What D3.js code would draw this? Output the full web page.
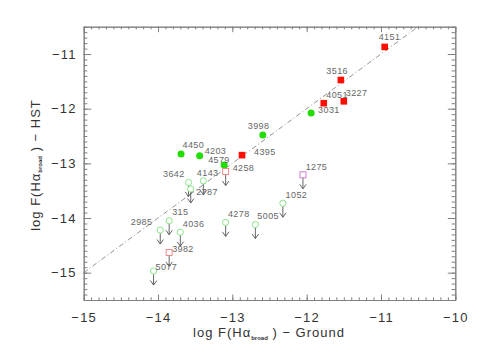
<!DOCTYPE html>
<html>
<head>
<meta charset="utf-8">
<script src="https://cdn.jsdelivr.net/npm/d3@7"></script>
<style>
  body { margin: 0; background: white; }
  text { font-family: "Liberation Sans", Arial, sans-serif; }
</style>
</head>
<body>
<div id="vis"></div>
<script>
// galaxy ids and log fluxes
// detections (filled symbols)
let detRedNames = ['4151', '3516', '4051', '3227', '4395'];
let detRedX = [-10.95, -11.54, -11.77, -11.50, -12.87];
let detRedY = [-10.87, -11.475, -11.90, -11.865, -12.85];

let detGreenNames = ['3031', '3998', '4450', '4203', '4579'];
let detGreenX = [-11.94, -12.59, -13.69, -13.44, -13.11];
let detGreenY = [-12.08, -12.48, -12.83, -12.86, -13.03];

// upper limits (open symbols + arrow)
let limGreenNames = ['3642', '2787', '4143', '315', '2985', '4036', '5077', '4278', '5005', '1052'];
let limGreenX = [-13.59, -13.56, -13.39, -13.85, -13.97, -13.70, -14.06, -13.09, -12.69, -12.32];
let limGreenY = [-13.35, -13.47, -13.32, -14.05, -14.22, -14.26, -14.97, -14.08, -14.12, -13.73];

let limRedNames = ['4258', '3982'];
let limRedX = [-13.09, -13.85];
let limRedY = [-13.15, -14.63];

let limMagNames = ['1275'];
let limMagX = [-12.05];
let limMagY = [-13.21];

let xTicks = [-15, -14, -13, -12, -11, -10];
let yTicks = [-15, -14, -13, -12, -11];

// where each label sits relative to its symbol (text start, baseline)
let labelOffset = {
  '4151': [-6, -6.5], '3516': [-14.5, -6], '4051': [2.5, -5.5], '3227': [2, -5.5],
  '3031': [7, 0], '3998': [-15, -6], '4395': [12, 0], '4450': [1.5, -6],
  '4203': [5, -1.5], '4579': [-16, -1.5], '4258': [7, -0.5], '3642': [-25.5, -5.5],
  '2787': [5.5, 5.7], '4143': [-6.5, -5], '315': [3, -5.5], '2985': [-29.5, -5.5],
  '4036': [2.5, -5], '3982': [3, -0.7], '5077': [2, -0.7], '4278': [2.3, -5.6],
  '5005': [2, -6], '1052': [2.7, -5.7], '1275': [2.7, -5]
};

function zip(names, xs, ys, kind) {
  return names.map((n, i) => ({ name: n, x: xs[i], y: ys[i], kind: kind }));
}

let points = [].concat(
  zip(detRedNames, detRedX, detRedY, 'detRed'),
  zip(detGreenNames, detGreenX, detGreenY, 'detGreen'),
  zip(limGreenNames, limGreenX, limGreenY, 'limGreen'),
  zip(limRedNames, limRedX, limRedY, 'limRed'),
  zip(limMagNames, limMagX, limMagY, 'limMag')
);

let W = 481, H = 354;
let margin = { top: 26.7, left: 83.7, right: 25.7, bottom: 54 },
  width = W - margin.left - margin.right,
  height = H - margin.top - margin.bottom;

let svg = d3.select('#vis')
  .append('svg')
  .attr('width', W)
  .attr('height', H)
  .style('background-color', 'white');

let x = d3.scaleLinear().domain([-15, -10]).range([0, width]);
let y = d3.scaleLinear().domain([-15.5, -10.5]).range([height, 0]);

let g = svg.append('g')
  .attr('transform', `translate(${margin.left},${margin.top})`);

let fmt = d => (d < 0 ? '\u2212' : '') + Math.abs(d);
let xMinor = d3.range(-150, -99).map(d => d / 10);
let yMinor = d3.range(-155, -104).map(d => d / 10);

let axisCol = '#808080';

function styleAxis(sel) {
  sel.selectAll('path').attr('stroke', axisCol);
  sel.selectAll('line').attr('stroke', axisCol);
  sel.selectAll('text')
    .attr('fill', '#333')
    .style('font-size', '13px')
    .style('letter-spacing', '1.2px');
}

// bottom + top, minor then major, ticks pointing in
g.append('g').attr('transform', `translate(0,${height})`)
  .call(d3.axisBottom(x).tickValues(xMinor).tickSize(-2.7).tickFormat('').tickSizeOuter(0))
  .call(styleAxis);
g.append('g').attr('transform', `translate(0,${height})`)
  .call(d3.axisBottom(x).tickValues(xTicks).tickSize(-5.5).tickPadding(13).tickFormat(fmt).tickSizeOuter(0))
  .call(styleAxis);
g.append('g')
  .call(d3.axisTop(x).tickValues(xMinor).tickSize(-2.7).tickFormat('').tickSizeOuter(0))
  .call(styleAxis);
g.append('g')
  .call(d3.axisTop(x).tickValues(xTicks).tickSize(-5.5).tickFormat('').tickSizeOuter(0))
  .call(styleAxis);

// left + right
g.append('g')
  .call(d3.axisLeft(y).tickValues(yMinor).tickSize(-3.7).tickFormat('').tickSizeOuter(0))
  .call(styleAxis);
g.append('g')
  .call(d3.axisLeft(y).tickValues(yTicks).tickSize(-7.5).tickPadding(7).tickFormat(fmt).tickSizeOuter(0))
  .call(styleAxis);
g.append('g').attr('transform', `translate(${width},0)`)
  .call(d3.axisRight(y).tickValues(yMinor).tickSize(-3.7).tickFormat('').tickSizeOuter(0))
  .call(styleAxis);
g.append('g').attr('transform', `translate(${width},0)`)
  .call(d3.axisRight(y).tickValues(yTicks).tickSize(-7.5).tickFormat('').tickSizeOuter(0))
  .call(styleAxis);

// one-to-one line
g.append('line')
  .attr('x1', x(-15)).attr('y1', y(-15))
  .attr('x2', x(-10.5)).attr('y2', y(-10.5))
  .attr('stroke', '#777')
  .attr('stroke-width', 0.8)
  .attr('stroke-dasharray', '5,2.5,1,2.5');

// arrows for the upper limits
let lims = points.filter(d => d.kind.startsWith('lim'));
let arrowCol = '#555';
lims.forEach(d => {
  let cx = x(d.x), cy = y(d.y);
  g.append('line')
    .attr('x1', cx).attr('y1', cy + 2)
    .attr('x2', cx).attr('y2', cy + 14)
    .attr('stroke', arrowCol).attr('stroke-width', 0.9);
  g.append('path')
    .attr('d', `M${cx - 3.2},${cy + 9.5} L${cx},${cy + 14} L${cx + 3.2},${cy + 9.5}`)
    .attr('fill', 'none')
    .attr('stroke', arrowCol).attr('stroke-width', 0.9);
});

// symbols
g.selectAll('.sq').data(points.filter(d => d.kind == 'detRed'))
  .join('rect')
  .attr('x', d => x(d.x) - 3.3).attr('y', d => y(d.y) - 3.3)
  .attr('width', 6.6).attr('height', 6.6)
  .attr('fill', '#ff0d00');

g.selectAll('.dot').data(points.filter(d => d.kind == 'detGreen'))
  .join('circle')
  .attr('cx', d => x(d.x)).attr('cy', d => y(d.y))
  .attr('r', 3.5)
  .attr('fill', '#22dd00');

g.selectAll('.odot').data(points.filter(d => d.kind == 'limGreen'))
  .join('circle')
  .attr('cx', d => x(d.x)).attr('cy', d => y(d.y))
  .attr('r', 3.1)
  .attr('fill', 'white')
  .attr('stroke', '#7fe07f').attr('stroke-width', 0.9);

g.selectAll('.osq').data(points.filter(d => d.kind == 'limRed' || d.kind == 'limMag'))
  .join('rect')
  .attr('x', d => x(d.x) - 3).attr('y', d => y(d.y) - 3)
  .attr('width', 6).attr('height', 6)
  .attr('fill', 'white')
  .attr('stroke', d => d.kind == 'limRed' ? '#f08080' : '#d070d8')
  .attr('stroke-width', 0.9);

// labels
g.selectAll('.lab').data(points)
  .join('text')
  .attr('x', d => x(d.x) + (labelOffset[d.name] || [2, -5.5])[0])
  .attr('y', d => y(d.y) + (labelOffset[d.name] || [2, -5.5])[1])
  .attr('fill', '#666')
  .style('font-size', '9px')
  .style('letter-spacing', '0.4px')
  .text(d => d.name);

// axis titles, with the tiny bold "broad" subscript
function title(sel, rest) {
  sel.append('tspan').text('log F(H\u03b1');
  sel.append('tspan').text('broad')
    .attr('dy', 2.5)
    .style('font-size', '6px')
    .style('font-weight', 'bold')
    .style('letter-spacing', '0px');
  sel.append('tspan').text(' ) \u2212 ' + rest).attr('dy', -2.5);
}

svg.append('text')
  .attr('x', 269).attr('y', 337)
  .attr('text-anchor', 'middle')
  .attr('fill', '#333')
  .style('font-size', '13px')
  .style('letter-spacing', '1px')
  .call(title, 'Ground');

svg.append('text')
  .attr('transform', 'translate(39.5,165) rotate(-90)')
  .attr('text-anchor', 'middle')
  .attr('fill', '#333')
  .style('font-size', '13px')
  .style('letter-spacing', '1px')
  .call(title, 'HST');
</script>
</body>
</html>
